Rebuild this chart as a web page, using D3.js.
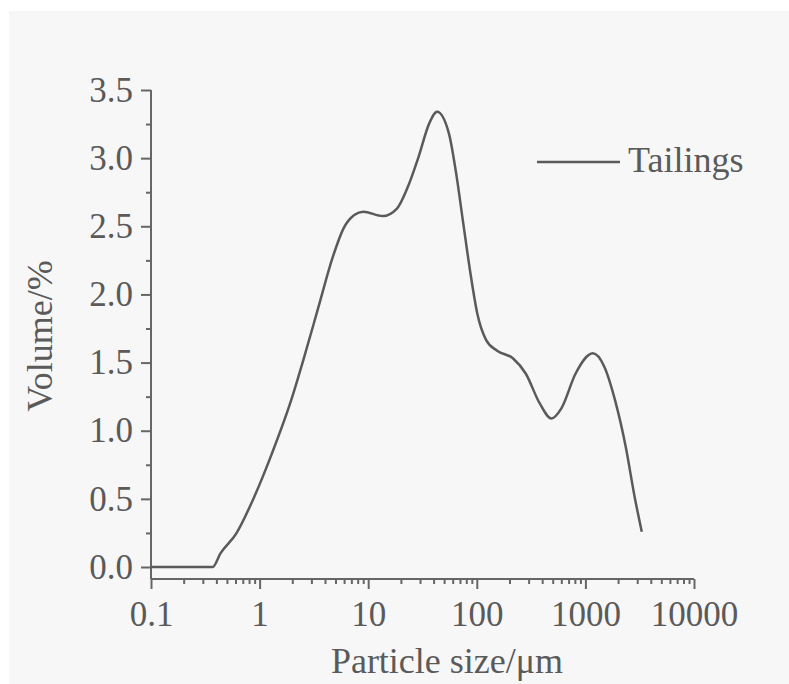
<!DOCTYPE html>
<html lang="en">
<head>
    <meta charset="UTF-8">
    <style>
        body { margin: 0; background: #fff; }
        svg { display: block; }
        text {
            font-family: "Liberation Serif", "Times New Roman", serif;
            fill: #5a5a5a;
        }
    </style>
    <script src="https://d3js.org/d3.v7.min.js"></script>
    <title>Particle size distribution</title>
</head>
<body>
    <svg width="789" height="684"></svg>
    <script>

        // particle size (um) and volume (%)
        var sizes = [0.1, 0.2, 0.37, 0.436, 0.611, 0.894, 1.30, 1.91, 2.58, 3.49, 4.73, 5.93, 7.44, 8.99,
                     13.6, 18.4, 23.2, 29.1, 36.5, 43.1, 55.4, 64.5, 75.1, 87.4, 101, 122, 154, 216,
                     282, 380, 486, 601, 813, 1171, 1493, 1874, 2351, 2838, 3305];
        var volumes = [0, 0, 0, 0.10, 0.247, 0.516, 0.834, 1.20, 1.543, 1.91, 2.277, 2.485, 2.583, 2.607,
                       2.575, 2.63, 2.79, 3.01, 3.255, 3.34, 3.18, 2.89, 2.52, 2.155, 1.86, 1.665, 1.587, 1.53,
                       1.42, 1.20, 1.09, 1.164, 1.42, 1.568, 1.47, 1.225, 0.883, 0.516, 0.259];

        var xTicks = [0.1, 1, 10, 100, 1000, 10000];
        var xTickLabels = ["0.1", "1", "10", "100", "1000", "10000"];
        var yTicks = [0, 0.5, 1, 1.5, 2, 2.5, 3, 3.5];
        var yTickLabels = ["0.0", "0.5", "1.0", "1.5", "2.0", "2.5", "3.0", "3.5"];
        var seriesName = "Tailings";

        var svg = d3.select("svg");

        // grey plot page, white strip on top and left
        svg.append("rect")
            .attr("x", 9).attr("y", 11)
            .attr("width", 780).attr("height", 673)
            .attr("fill", "#f7f7f7");

        var x = d3.scaleLog().domain([0.1, 10000]).range([151, 694]);
        var y = d3.scaleLinear().domain([-0.088, 3.5]).range([579, 90]);

        // minor ticks
        var xMinor = [];
        for (var p = -1; p < 4; p++) {
            for (var k = 2; k <= 9; k++) xMinor.push(k * Math.pow(10, p));
        }
        var yMinor = d3.range(0.25, 3.5, 0.5);

        var xAxis = svg.append("g")
            .attr("transform", "translate(0,579)");
        xAxis.call(d3.axisBottom(x).tickValues(xMinor).tickSize(5).tickFormat(""));
        xAxis.append("g").call(d3.axisBottom(x).tickValues(xTicks).tickSize(10).tickSizeOuter(0)
                .tickFormat(function(d, i) { return xTickLabels[i]; }))
            .call(function(g) { g.select(".domain").remove(); });
        xAxis.selectAll("path, line").attr("stroke", "#666").attr("stroke-width", 2);
        xAxis.select(".domain").attr("d", "M151,0H694");
        xAxis.selectAll("text").attr("font-size", 35).attr("y", 47).attr("dy", null)
            .attr("fill", "#5a5a5a").attr("font-family", "Liberation Serif");

        var yAxis = svg.append("g")
            .attr("transform", "translate(151,0)");
        yAxis.call(d3.axisLeft(y).tickValues(yMinor).tickSize(5).tickFormat(""));
        yAxis.append("g").call(d3.axisLeft(y).tickValues(yTicks).tickSize(10).tickSizeOuter(0)
                .tickFormat(function(d, i) { return yTickLabels[i]; }))
            .call(function(g) { g.select(".domain").remove(); });
        yAxis.selectAll("path, line").attr("stroke", "#666").attr("stroke-width", 2);
        yAxis.select(".domain").attr("d", "M0,90V579");
        yAxis.selectAll("text").attr("font-size", 35).attr("x", -18).attr("dy", "0.32em")
            .attr("fill", "#5a5a5a").attr("font-family", "Liberation Serif");

        // curve
        var line = d3.line()
            .x(function(d) { return x(d[0]); })
            .y(function(d) { return y(d[1]); })
            .curve(d3.curveMonotoneX);

        svg.append("path")
            .datum(d3.zip(sizes, volumes))
            .attr("fill", "none")
            .attr("stroke", "#5a5a5a")
            .attr("stroke-width", 2.5)
            .attr("d", line);

        // legend
        svg.append("line")
            .attr("x1", 537).attr("x2", 620).attr("y1", 162).attr("y2", 162)
            .attr("stroke", "#5a5a5a").attr("stroke-width", 2.5);
        svg.append("text")
            .attr("x", 628).attr("y", 172)
            .attr("font-size", 36)
            .text(seriesName);

        // axis titles
        svg.append("text")
            .attr("x", 447).attr("y", 673)
            .attr("text-anchor", "middle")
            .attr("font-size", 36)
            .text("Particle size/\u03bcm");

        svg.append("text")
            .attr("transform", "translate(52,336) rotate(-90)")
            .attr("text-anchor", "middle")
            .attr("font-size", 36)
            .text("Volume/%");

    </script>
</body>
</html>
